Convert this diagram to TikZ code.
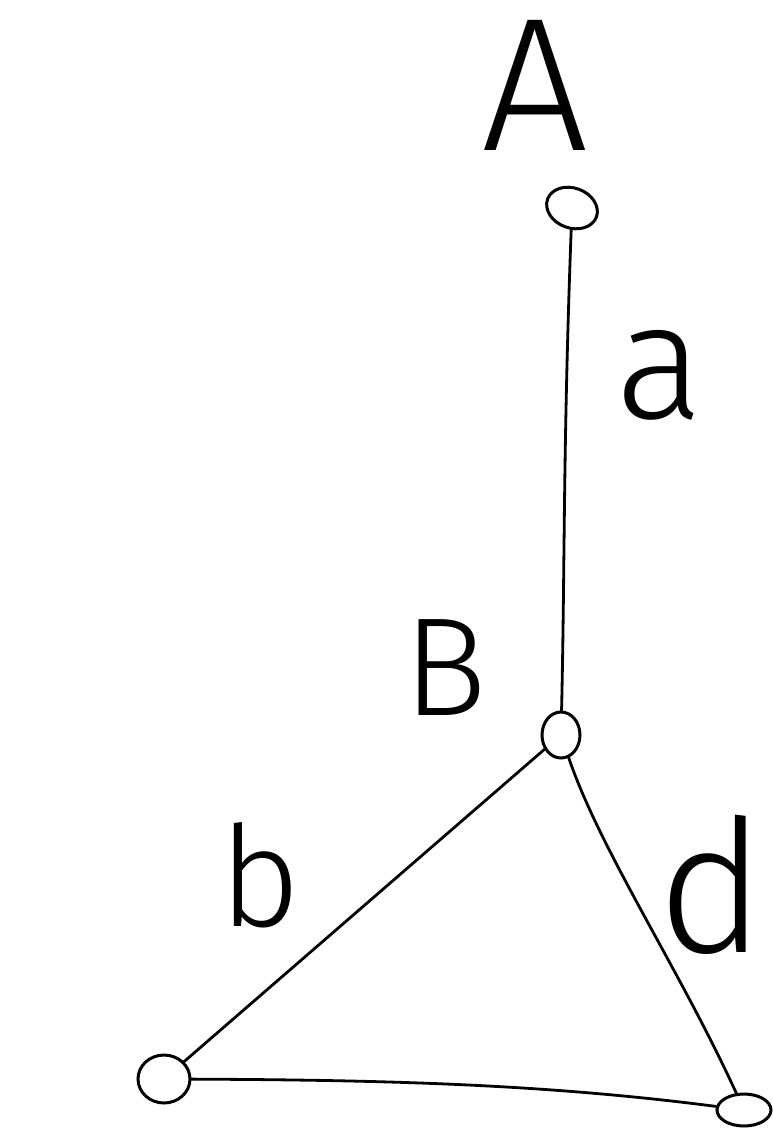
\documentclass[tikz,border=0pt]{standalone}
\usepackage{fontspec}
\setmainfont{Fira Sans}[UprightFont={* Light}]
\usetikzlibrary{shapes.geometric}
\begin{document}
\begin{tikzpicture}[x=1pt,y=-1pt,
  pt/.style={draw,ellipse,line width=3pt,inner sep=0pt},
  edge/.style={line width=2.8pt,line cap=round},
  lbl/.style={inner sep=0pt,font=\fontsize{140}{140}\selectfont}]
\useasboundingbox (0,0) rectangle (773,1128);
\node[pt,minimum width=52,minimum height=40,rotate=-20] (pA) at (572,208) {};
\node[pt,minimum width=38,minimum height=46] (pB) at (561,735) {};
\node[pt,minimum width=52,minimum height=48] (pC) at (164,1079) {};
\node[pt,minimum width=54,minimum height=32] (pD) at (744,1110) {};
\draw[edge] (pA) .. controls (563,450) and (565,560) .. (pB);
\draw[edge] (pB) -- (pC);
\draw[edge] (pB) .. controls (600,850) and (680,970) .. (pD);
\draw[edge] (pC) .. controls (400,1080) and (550,1085) .. (pD);
\node[lbl,font=\fontsize{190}{190}\selectfont] (tA) at (535,85) {A};
\node[lbl,font=\fontsize{165}{165}\selectfont] (ta) at (660,375) {a};
\node[lbl] (tB) at (445,668) {B};
\node[lbl,font=\fontsize{140}{140}\selectfont] (tb) at (260,875) {b};
\node[lbl,font=\fontsize{185}{185}\selectfont] (td) at (712,885) {d};
\end{tikzpicture}
\end{document}
